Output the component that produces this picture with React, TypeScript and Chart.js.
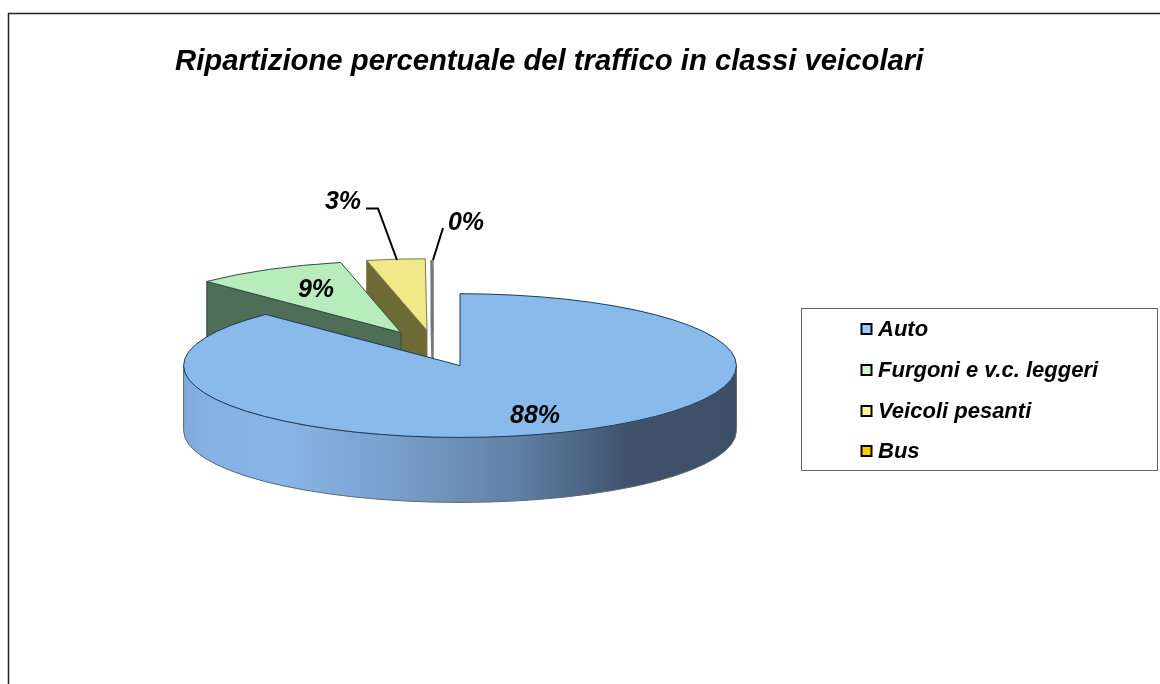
import React, { useEffect, useRef } from "react";
import { Chart, registerables } from "chart.js";

Chart.register(...registerables);

const titleText = "Ripartizione percentuale del traffico in classi veicolari";
const categories = ["Auto", "Furgoni e v.c. leggeri", "Veicoli pesanti", "Bus"];
const shares = [87.6, 8.9, 3.4, 0.1];

const sliceColors = ["#8AB9EC", "#B9ECBD", "#EFE987", "#FFFFFF"];
const cutFaceColors = ["#3F5269", "#4F6E57", "#6D6A36", "#FFFFFF"];
const outlineColors = ["#1F3B5C", "#2E5040", "#7A7A50", "#6F7680"];
const legendColors = ["#99CCFF", "#CCFFCC", "#FFFF99", "#FFCC00"];

// Tilt of the pie and explosion of each slice, in pixels
const SQUASH = 72 / 277;
const DEPTH = 65;
const explodeX = [0, -59, -33, -27];
const explodeY = [0, -33, -35, -33];
// Data label centres relative to the pie centre
const labelDX = [75, -144, -117, 6];
const labelDY = [51, -75, -163, -142];
// Legend frame and rows
const legendFrame = { x: 801.5, y: 308.5, w: 356, h: 162 };
const legendRowY = [329, 370, 411, 451];
const legendTextDY = 1;
const legendSwatchX = 861.5;
const legendTextX = 878;

const FONT = "'Liberation Sans', Arial, sans-serif";

const pie3d = {
  id: "pie3d",
  afterLayout(chart: any) {
    const t = chart.titleBlock;
    t.left = 175;
    t.right = 1160;
  },
  beforeDraw(chart: any) {
    const { ctx, width, height } = chart;
    ctx.save();
    ctx.fillStyle = "#FFFFFF";
    ctx.fillRect(0, 0, width, height);
    ctx.strokeStyle = "#222222";
    ctx.lineWidth = 1.5;
    ctx.beginPath();
    ctx.moveTo(8.5, height);
    ctx.lineTo(8.5, 13.5);
    ctx.lineTo(width, 13.5);
    ctx.stroke();
    ctx.restore();
  },
  beforeDatasetsDraw(chart: any) {
    const { ctx } = chart;
    const arcs = chart.getDatasetMeta(0).data;
    for (let i = arcs.length - 1; i >= 0; i--) {
      const arc = arcs[i];
      const cx = arc.x + explodeX[i];
      const cy = arc.y + explodeY[i];
      const r = arc.outerRadius;
      const ry = r * SQUASH;
      const a0 = arc.startAngle;
      const a1 = arc.endAngle;
      const px = cx + r * Math.cos(a0);
      const py = cy + ry * Math.sin(a0);

      // cut face along the slice's starting edge
      if (i > 0) {
        ctx.save();
        ctx.beginPath();
        ctx.moveTo(cx, cy);
        ctx.lineTo(px, py);
        ctx.lineTo(px, py + DEPTH);
        ctx.lineTo(cx, cy + DEPTH);
        ctx.closePath();
        ctx.fillStyle = cutFaceColors[i];
        ctx.fill();
        ctx.strokeStyle = outlineColors[i];
        ctx.lineWidth = i === 3 ? 1.5 : 1;
        ctx.stroke();
        ctx.restore();
      }

      // outer wall of the part of the rim that faces the viewer
      const w0 = Math.max(a0, 0);
      const w1 = Math.min(a1, Math.PI);
      if (w1 > w0) {
        ctx.save();
        ctx.beginPath();
        ctx.ellipse(cx, cy, r, ry, 0, w0, w1);
        ctx.ellipse(cx, cy + DEPTH, r, ry, 0, w1, w0, true);
        ctx.closePath();
        const g = ctx.createLinearGradient(cx - r, 0, cx + r, 0);
        g.addColorStop(0, "#7FA9D9");
        g.addColorStop(0.03, "#84B1E3");
        g.addColorStop(0.18, "#88B5E6");
        g.addColorStop(0.38, "#7A9FCB");
        g.addColorStop(0.61, "#5F7FA3");
        g.addColorStop(0.8, "#40536B");
        g.addColorStop(1, "#3D4F66");
        ctx.fillStyle = g;
        ctx.fill();
        ctx.strokeStyle = "#5A6878";
        ctx.lineWidth = 1;
        ctx.stroke();
        ctx.restore();
      }

      // top face: the library's own arc element, tilted
      ctx.save();
      ctx.translate(cx, cy);
      ctx.scale(1, SQUASH);
      ctx.translate(-arc.x, -arc.y);
      arc.draw(ctx);
      ctx.beginPath();
      ctx.moveTo(arc.x, arc.y);
      ctx.arc(arc.x, arc.y, r, a0, a1);
      ctx.closePath();
      ctx.restore();
      ctx.save();
      ctx.strokeStyle = outlineColors[i];
      ctx.lineWidth = i === 3 ? 1.5 : 1;
      ctx.stroke();
      ctx.restore();
    }
    return false;
  },
  afterDraw(chart: any) {
    const { ctx } = chart;
    const arcs = chart.getDatasetMeta(0).data;
    const values = chart.data.datasets[0].data;
    const total = values.reduce((a: number, b: number) => a + b, 0);
    ctx.save();
    // leader lines for the two narrow slices
    ctx.strokeStyle = "#000000";
    ctx.lineWidth = 2;
    ctx.beginPath();
    ctx.moveTo(366, 208.5);
    ctx.lineTo(378, 208.5);
    ctx.lineTo(397, 260);
    ctx.moveTo(443, 228);
    ctx.lineTo(433, 260);
    ctx.stroke();
    ctx.fillStyle = "#000000";
    ctx.font = `italic bold 25px ${FONT}`;
    ctx.textAlign = "center";
    ctx.textBaseline = "middle";
    values.forEach((v: number, i: number) => {
      const text = `${Math.round((v / total) * 100)}%`;
      ctx.fillText(text, arcs[i].x + labelDX[i], arcs[i].y + labelDY[i]);
    });
    // legend
    ctx.strokeStyle = "#666666";
    ctx.lineWidth = 1;
    ctx.strokeRect(legendFrame.x, legendFrame.y, legendFrame.w, legendFrame.h);
    ctx.font = `italic bold 22px ${FONT}`;
    ctx.textAlign = "left";
    chart.data.labels.forEach((label: string, i: number) => {
      const y = legendRowY[i];
      ctx.fillStyle = legendColors[i];
      ctx.fillRect(legendSwatchX, y - 5, 10, 10);
      ctx.strokeStyle = "#000000";
      ctx.lineWidth = 2;
      ctx.strokeRect(legendSwatchX, y - 5, 10, 10);
      ctx.fillStyle = "#000000";
      ctx.fillText(label, legendTextX, y + legendTextDY);
    });
    ctx.restore();
  },
};

export default function App() {
  const ref = useRef<HTMLCanvasElement>(null);
  useEffect(() => {
    if (!ref.current) return;
    const chart = new Chart(ref.current, {
      type: "pie",
      data: {
        labels: categories,
        datasets: [
          { data: shares, backgroundColor: sliceColors, borderWidth: 0 },
        ],
      },
      options: {
        responsive: false,
        animation: false,
        rotation: 0,
        layout: { padding: { left: 183, right: 423, top: 0, bottom: 42 } },
        plugins: {
          tooltip: { enabled: false },
          legend: { display: false },
          title: {
            display: true,
            text: titleText,
            align: "start",
            color: "#000000",
            font: { family: FONT, size: 29.3, style: "italic", weight: "bold" },
            padding: { top: 44, bottom: 10 },
          },
        },
      },
      plugins: [pie3d],
    } as any);
    return () => chart.destroy();
  }, []);
  return (
    <div style={{ position: "absolute", left: 0, top: 0, width: 1160, height: 684 }}>
      <canvas ref={ref} width={1160} height={684} style={{ display: "block" }} />
    </div>
  );
}
